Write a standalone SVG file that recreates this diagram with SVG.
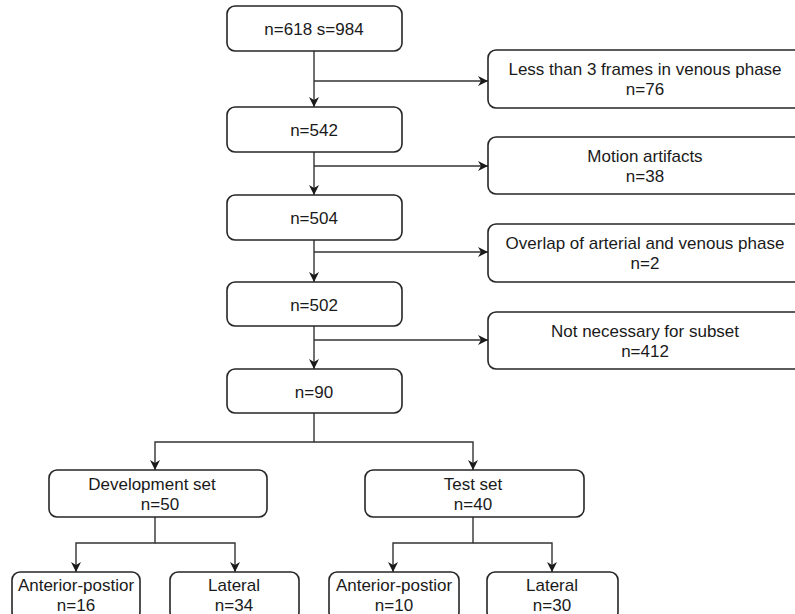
<svg xmlns="http://www.w3.org/2000/svg" width="795" height="614" viewBox="0 0 795 614">
<style>
.box{fill:#ffffff;stroke:#262626;stroke-width:1.6}
.t{font-family:"Liberation Sans",Arial,sans-serif;font-size:17px;fill:#1a1a1a;text-anchor:middle}
.b{font-size:17px}
.c{fill:none;stroke:#333333;stroke-width:1.4}
</style>
<defs>
<marker id="arr" markerUnits="userSpaceOnUse" markerWidth="12" markerHeight="12" refX="10" refY="5" orient="auto" viewBox="0 0 12 12">
<path d="M0,0 L10,5 L0,10 L3,5 Z" fill="#1a1a1a"/>
</marker>
</defs>
<rect width="795" height="614" fill="#ffffff"/>
<g id="connectors">
<path class="c" d="M314,51 V107" marker-end="url(#arr)"/>
<path class="c" d="M314,81 H488" marker-end="url(#arr)"/>
<path class="c" d="M314,152 V195" marker-end="url(#arr)"/>
<path class="c" d="M314,166 H488" marker-end="url(#arr)"/>
<path class="c" d="M314,240 V282" marker-end="url(#arr)"/>
<path class="c" d="M314,252 H488" marker-end="url(#arr)"/>
<path class="c" d="M314,326 V369" marker-end="url(#arr)"/>
<path class="c" d="M314,340 H488" marker-end="url(#arr)"/>
<path class="c" d="M314,413 V442 H155 V470" marker-end="url(#arr)"/>
<path class="c" d="M314,442 H473 V470" marker-end="url(#arr)"/>
<path class="c" d="M155,517 V543 H76 V572" marker-end="url(#arr)"/>
<path class="c" d="M155,543 H235 V572" marker-end="url(#arr)"/>
<path class="c" d="M473,517 V543 H393 V572" marker-end="url(#arr)"/>
<path class="c" d="M473,543 H552 V572" marker-end="url(#arr)"/>
</g>
<g id="n618">
<rect class="box" x="227" y="6" width="175" height="45" rx="8"/>
<text class="t" x="314" y="35">n=618 s=984</text>
</g>
<g id="excl1">
<rect class="box" x="488" y="50" width="314" height="58" rx="8"/>
<text class="t" x="645" y="75">Less than 3 frames in venous phase</text>
<text class="t" x="645" y="95">n=76</text>
</g>
<g id="n542">
<rect class="box" x="227" y="107" width="175" height="45" rx="8"/>
<text class="t" x="314" y="136">n=542</text>
</g>
<g id="excl2">
<rect class="box" x="488" y="137" width="314" height="57" rx="8"/>
<text class="t" x="645" y="161.5">Motion artifacts</text>
<text class="t" x="645" y="181.5">n=38</text>
</g>
<g id="n504">
<rect class="box" x="227" y="195" width="175" height="45" rx="8"/>
<text class="t" x="314" y="224">n=504</text>
</g>
<g id="excl3">
<rect class="box" x="488" y="224" width="314" height="58" rx="8"/>
<text class="t" x="645" y="249">Overlap of arterial and venous phase</text>
<text class="t" x="645" y="269">n=2</text>
</g>
<g id="n502">
<rect class="box" x="227" y="282" width="175" height="44" rx="8"/>
<text class="t" x="314" y="310.5">n=502</text>
</g>
<g id="excl4">
<rect class="box" x="488" y="312" width="314" height="57" rx="8"/>
<text class="t" x="645" y="336.5">Not necessary for subset</text>
<text class="t" x="645" y="356.5">n=412</text>
</g>
<g id="n90">
<rect class="box" x="227" y="369" width="175" height="44" rx="8"/>
<text class="t" x="314" y="397.5">n=90</text>
</g>
<g id="dev">
<rect class="box" x="49" y="470" width="218" height="47" rx="8"/>
<text class="t" x="152" y="489.5">Development set</text>
<text class="t" x="160" y="509.5">n=50</text>
</g>
<g id="test">
<rect class="box" x="365" y="470" width="219" height="47" rx="8"/>
<text class="t" x="473" y="489.5">Test set</text>
<text class="t" x="473" y="509.5">n=40</text>
</g>
<g id="dev_ap">
<rect class="box" x="12" y="572" width="128" height="48" rx="8"/>
<text class="t b" x="76" y="591">Anterior-postior</text>
<text class="t b" x="76" y="611">n=16</text>
</g>
<g id="dev_lat">
<rect class="box" x="170" y="572" width="129" height="48" rx="8"/>
<text class="t b" x="234" y="591">Lateral</text>
<text class="t b" x="234" y="611">n=34</text>
</g>
<g id="test_ap">
<rect class="box" x="329" y="572" width="130" height="48" rx="8"/>
<text class="t b" x="394" y="591">Anterior-postior</text>
<text class="t b" x="394" y="611">n=10</text>
</g>
<g id="test_lat">
<rect class="box" x="487" y="572" width="131" height="48" rx="8"/>
<text class="t b" x="552" y="591">Lateral</text>
<text class="t b" x="552" y="611">n=30</text>
</g>
</svg>
